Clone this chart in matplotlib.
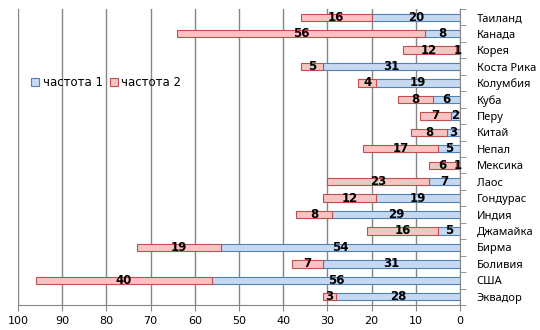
import matplotlib
matplotlib.use("Agg")
import matplotlib.pyplot as plt
import numpy as np
from matplotlib.ticker import FixedLocator, NullFormatter

categories = ["Таиланд", "Канада", "Корея", "Коста Рика", "Колумбия", "Куба", "Перу",
              "Китай", "Непал", "Мексика", "Лаос", "Гондурас", "Индия", "Джамайка",
              "Бирма", "Боливия", "США", "Эквадор"]
freq1 = [20, 8, 1, 31, 19, 6, 2, 3, 5, 1, 7, 19, 29, 5, 54, 31, 56, 28]
freq2 = [16, 56, 12, 5, 4, 8, 7, 8, 17, 6, 23, 12, 8, 16, 19, 7, 40, 3]
series_names = ["частота 1", "частота 2"]
xticks = [100, 90, 80, 70, 60, 50, 40, 30, 20, 10, 0]

plt.rcParams['font.family'] = ['DejaVu Sans']
fig = plt.figure(figsize=(5.4, 3.3), dpi=100)
ax = fig.add_axes([18/540, 1-305/330, (460-18)/540, (305-9)/330])

y = np.arange(len(categories))
h = 0.45
b1 = ax.barh(y, freq1, height=h, color="#c6d9f1", edgecolor="#4f81bd", linewidth=0.8,
             label=series_names[0], zorder=3)
b2 = ax.barh(y, freq2, left=freq1, height=h, color="#f7c4c4", edgecolor="#c0504d", linewidth=0.8,
             label=series_names[1], zorder=3)

for yi, v1, v2 in zip(y, freq1, freq2):
    ax.text(v1/2, yi, str(v1), ha="center", va="center", fontsize=8.5, fontweight="bold", zorder=4)
    ax.text(v1 + v2/2, yi, str(v2), ha="center", va="center", fontsize=8.5, fontweight="bold", zorder=4)

ax.set_xlim(100, 0)
ax.set_ylim(len(categories)-0.5, -0.5)
ax.set_xticks(xticks)
ax.tick_params(axis="x", labelsize=8, color="#868686", length=4, pad=4)
ax.xaxis.grid(True, color="#868686", linewidth=1)
ax.set_axisbelow(True)

ax.yaxis.tick_right()
ax.set_yticks(y)
ax.set_yticklabels(categories, fontsize=8, family="Noto Sans")
ax.tick_params(axis="y", which="major", length=0, pad=12)
ax.yaxis.set_minor_locator(FixedLocator(np.arange(-0.5, len(categories), 1)))
ax.yaxis.set_minor_formatter(NullFormatter())
ax.tick_params(axis="y", which="minor", length=4, color="#868686", right=True, left=False)

for s in ["top", "left"]:
    ax.spines[s].set_visible(False)
ax.spines["right"].set_color("#868686")
ax.spines["bottom"].set_color("#868686")

leg = fig.legend(handles=[b1, b2], loc="center left", bbox_to_anchor=(26/540, 1-83/330),
                 ncol=2, frameon=False, fontsize=8.5, handlelength=0.7, handleheight=0.7,
                 handletextpad=0.3, columnspacing=0.6, borderaxespad=0)

fig.savefig("out.png", dpi=100)
